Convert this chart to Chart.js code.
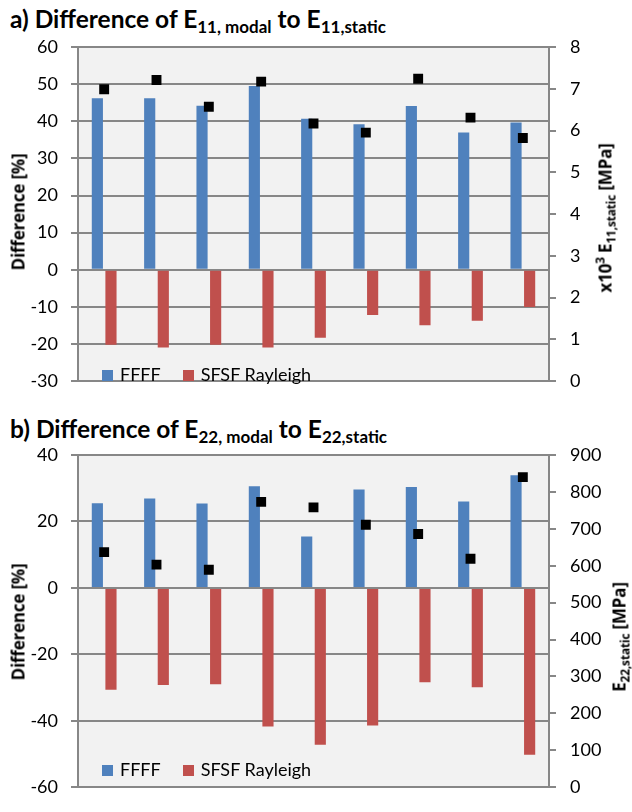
<!DOCTYPE html>
<html>
<head>
<meta charset="utf-8">
<script src="https://cdn.jsdelivr.net/npm/chart.js@4.4.1/dist/chart.umd.min.js"></script>
<style>
  html, body { margin: 0; padding: 0; background: #fff; }
  #page { position: relative; width: 632px; height: 812px; font-family: Lato, 'Open Sans', sans-serif; color: #000; }
  canvas { position: absolute; left: 0; }
  .title { position: absolute; left: 10px; font-weight: 700; font-size: 24.5px; white-space: nowrap; line-height: 1; }
  .title sub { font-size: 17px; vertical-align: -5px; }
  .vtitle { position: absolute; font-family: 'Open Sans', sans-serif; font-weight: 700; font-size: 17px; white-space: nowrap; line-height: 1;
            transform: translate(-50%, -50%) rotate(-90deg); letter-spacing: -0.2px; }
  .vtitle sub { font-size: 12px; vertical-align: -4px; }
  .vtitle sup { font-size: 12px; vertical-align: 7px; }
  .legend { position: absolute; left: 102px; font-size: 18px; white-space: nowrap; line-height: 1; }
  .legend span.box { display: inline-block; width: 11px; height: 11px; margin-right: 7px; }
  .legend span.item { margin-right: 22px; }
</style>
</head>
<body>
<div id="page">
  <div class="title" style="top:7px">a) Difference of E<sub>11, modal</sub> to E<sub>11,static</sub></div>
  <canvas id="chartA" width="632" height="406" style="top:0"></canvas>
  <div class="vtitle" style="left:18px; top:212px">Difference [%]</div>
  <div class="vtitle" style="left:606px; top:218px">x10<sup>3</sup> E<sub>11,static</sub> [MPa]</div>
  <div class="legend" id="legendA" style="top:365px"></div>

  <div class="title" style="top:417px">b) Difference of E<sub>22, modal</sub> to E<sub>22,static</sub></div>
  <canvas id="chartB" width="632" height="406" style="top:406px"></canvas>
  <div class="vtitle" style="left:18px; top:622px">Difference [%]</div>
  <div class="vtitle" style="left:621px; top:637px">E<sub>22,static</sub> [MPa]</div>
  <div class="legend" id="legendB" style="top:760px"></div>
</div>
<script>
// specimens (no labels shown on the x axis)
const specimens = ['1', '2', '3', '4', '5', '6', '7', '8', '9'];

// a) E11
const ffffE11 = [46.2, 46.2, 44.2, 49.5, 40.7, 39.2, 44.1, 37.0, 39.7];
const sfsfE11 = [-20.2, -20.9, -20.2, -20.9, -18.3, -12.2, -14.9, -13.7, -10.0];
const e11Static = [6.99, 7.21, 6.57, 7.17, 6.17, 5.95, 7.24, 6.31, 5.82]; // x10^3 MPa

// b) E22
const ffffE22 = [25.5, 26.9, 25.4, 30.6, 15.5, 29.6, 30.4, 26.0, 33.9];
const sfsfE22 = [-30.7, -29.2, -29.0, -41.7, -47.2, -41.4, -28.4, -29.9, -50.2];
const e22Static = [637, 603, 589, 773, 758, 711, 686, 619, 840]; // MPa

// axis ranges [min, max, step]
const diffAxisA = [-30, 60, 10];
const staticAxisA = [0, 8, 1];
const diffAxisB = [-60, 40, 20];
const staticAxisB = [0, 900, 100];

const gridColor = '#878787';
Chart.defaults.font.family = 'Lato';
Chart.defaults.font.size = 18;
Chart.defaults.color = '#000';

// grauer Hintergrund im Plotbereich
const plotBg = {
    id: 'plotBg',
    beforeDraw(chart) {
        const a = chart.chartArea;
        const ctx = chart.ctx;
        ctx.save();
        ctx.fillStyle = '#f2f2f2';
        ctx.fillRect(a.left, a.top, a.right - a.left, a.bottom - a.top);
        ctx.restore();
    }
};

function makeChart(id, ffff, sfsf, stat, diffAxis, statAxis, padTop, padBottom) {
    const ctx = document.getElementById(id).getContext('2d');
    return new Chart(ctx, {
        type: 'bar',
        data: {
            labels: specimens,
            datasets: [{
                type: 'line',
                label: 'static',
                data: stat,
                yAxisID: 'y2',
                showLine: false,
                pointStyle: 'rect',
                pointRadius: 7,
                pointBackgroundColor: '#000',
                pointBorderColor: '#000',
                pointBorderWidth: 0,
                order: 0
            }, {
                label: 'FFFF',
                data: ffff,
                backgroundColor: '#4f81bd',
                categoryPercentage: 0.52,
                barPercentage: 0.82,
                order: 1
            }, {
                label: 'SFSF Rayleigh',
                data: sfsf,
                backgroundColor: '#c0504d',
                categoryPercentage: 0.52,
                barPercentage: 0.82,
                order: 2
            }]
        },
        options: {
            responsive: false,
            animation: false,
            layout: { padding: { top: padTop, bottom: padBottom, left: 0, right: 0 } },
            plugins: { legend: { display: false }, tooltip: { enabled: false } },
            scales: {
                x: { display: false },
                y: {
                    position: 'left',
                    min: diffAxis[0], max: diffAxis[1],
                    ticks: { stepSize: diffAxis[2], padding: 13 },
                    grid: { color: gridColor, lineWidth: 2, tickLength: 7 },
                    border: { color: gridColor, width: 2 },
                    afterFit: s => { s.width = 78; }
                },
                y2: {
                    position: 'right',
                    min: statAxis[0], max: statAxis[1],
                    ticks: { stepSize: statAxis[2], padding: 14 },
                    grid: { drawOnChartArea: false, color: gridColor, lineWidth: 2, tickLength: 7 },
                    border: { color: gridColor, width: 2 },
                    afterFit: s => { s.width = 83; }
                }
            }
        },
        plugins: [plotBg]
    });
}

function buildLegend(el, chart) {
    chart.data.datasets.filter(d => d.type !== 'line').forEach(d => {
        const item = document.createElement('span');
        item.className = 'item';
        item.innerHTML = '<span class="box" style="background:' + d.backgroundColor + '"></span>' + d.label;
        el.appendChild(item);
    });
}

const chartA = makeChart('chartA', ffffE11, sfsfE11, e11Static, diffAxisA, staticAxisA, 47, 13);
const chartB = makeChart('chartB', ffffE22, sfsfE22, e22Static, diffAxisB, staticAxisB, 49, 12);
buildLegend(document.getElementById('legendA'), chartA);
buildLegend(document.getElementById('legendB'), chartB);
</script>
</body>
</html>
